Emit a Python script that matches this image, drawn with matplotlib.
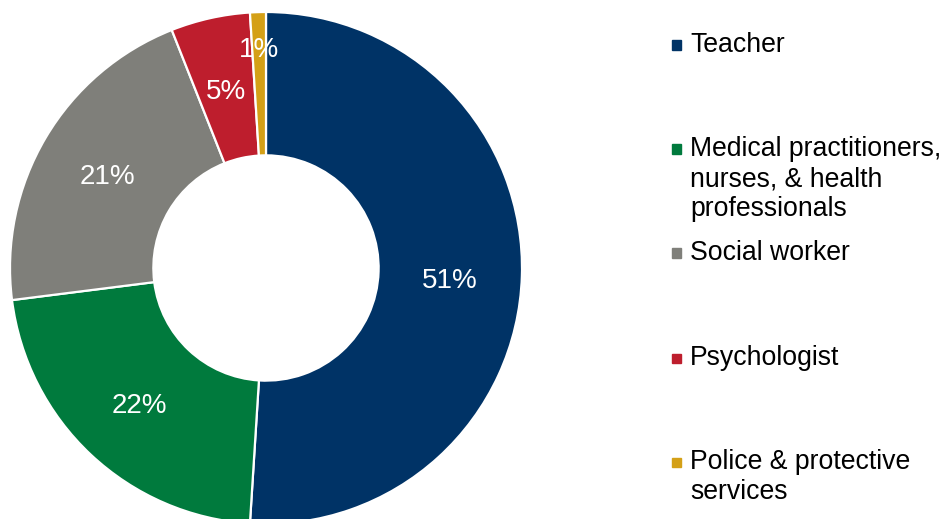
import matplotlib
matplotlib.use("Agg")
import matplotlib.pyplot as plt
from matplotlib.patches import Rectangle
import numpy as np

plt.rcParams['font.family'] = ['Liberation Sans', 'DejaVu Sans']

categories = ["Teacher",
              "Medical practitioners,\nnurses, & health\nprofessionals",
              "Social worker",
              "Psychologist",
              "Police & protective\nservices"]
shares = [51, 22, 21, 5, 1]
colors = ["#003366", "#007A3D", "#7F7F7A", "#BE1E2D", "#D4A017"]
label_radius = [0.72, 0.72, 0.72, 0.72, 0.86]
label_drop_px = [7.5, 4, 2.5, 4, 2]

W, H = 942, 519
fig = plt.figure(figsize=(W / 100, H / 100), dpi=100)

cx, cy, R = 266, 268, 256
ax = fig.add_axes([(cx - R) / W, (H - cy - R) / H, 2 * R / W, 2 * R / H])
wedges, _ = ax.pie(shares, colors=colors, startangle=90, counterclock=False,
                   radius=1.0, wedgeprops=dict(width=0.56, edgecolor="white", linewidth=1.6))
ax.set_xlim(-1, 1)
ax.set_ylim(-1, 1)
ax.set_aspect("equal")
ax.axis("off")

for w, v, r, d in zip(wedges, shares, label_radius, label_drop_px):
    ang = np.deg2rad((w.theta1 + w.theta2) / 2)
    ax.text(r * np.cos(ang), r * np.sin(ang) - d / R, f"{v}%", color="white",
            fontsize=20, ha="center", va="center")

# legend drawn by hand: square marker + label text
legend_top = [45, 149, 253, 358, 462]
for top, name, c in zip(legend_top, categories, colors):
    fig.patches.append(Rectangle((672 / W, (H - top - 4.5) / H), 9 / W, 9 / H,
                                 transform=fig.transFigure, color=c))
    fig.text(690 / W, (H - top + 13) / H, name, fontsize=19.2, ha="left", va="top",
             linespacing=1.2)

fig.savefig("out.png", dpi=100)
